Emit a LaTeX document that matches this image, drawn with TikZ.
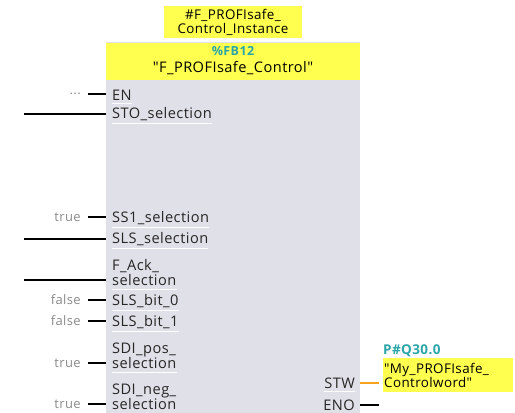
\documentclass[tikz,border=0pt]{standalone}
\usepackage{fontspec}
\setmainfont{Open Sans}[LetterSpace=3, Ligatures=TeXOff]
\definecolor{fbyellow}{HTML}{FFFF4F}
\definecolor{fbgrey}{HTML}{E0E0E8}
\definecolor{fbteal}{HTML}{2AA6A8}
\definecolor{valgrey}{HTML}{8A8A8A}
\definecolor{wireorange}{HTML}{F5A21E}
\tikzset{
  pinlabel/.style={anchor=west, inner xsep=0pt, inner ysep=3pt, font=\fontsize{14.6}{15}\selectfont, text=black!85, align=left},
  outlabel/.style={pinlabel, anchor=east},
  sepline/.style={white!96!fbgrey, line width=1pt},
  wire/.style={black, line width=2pt},
  owire/.style={wireorange, line width=2pt},
  value/.style={anchor=east, inner sep=0pt, font=\fontsize{13}{14}\selectfont, text=valgrey},
  yellowbox/.style={fill=fbyellow, inner sep=0pt, align=center, font=\fontsize{13.4}{14}\selectfont}
}
\begin{document}
\begin{tikzpicture}[x=1pt,y=-1pt]
\useasboundingbox (0,0) rectangle (515,413);

% function block body and header
\node[fill=fbgrey, minimum width=254pt, minimum height=372pt, anchor=north west, inner sep=0pt] (blk) at (106,42) {};
\node[fill=fbyellow, minimum width=254pt, minimum height=37pt, anchor=north west, inner sep=0pt] (hdr) at (106,43) {};
\node[text=fbteal, font=\bfseries\fontsize{12.5}{14}\selectfont] (fbnum) at (233,51) {\%FB12};
\node[font=\fontsize{14.6}{15}\selectfont] (fbname) at (233,68) {"F\_PROFIsafe\_Control"};

% instance data block
\node[yellowbox, minimum width=138pt, minimum height=32pt] (inst) at (233,22) {\#F\_PROFIsafe\_\\Control\_Instance};

% input pins
\node[pinlabel] (en) at (112,95) {EN};
\node[pinlabel] (sto) at (112,114) {STO\_selection};
\node[pinlabel] (ss1) at (112,218) {SS1\_selection};
\node[pinlabel] (sls) at (112,239) {SLS\_selection};
\node[pinlabel] (fack) at (112,273) {F\_Ack\_\\selection};
\node[pinlabel] (bit0) at (112,301) {SLS\_bit\_0};
\node[pinlabel] (bit1) at (112,322) {SLS\_bit\_1};
\node[pinlabel] (sdip) at (112,356) {SDI\_pos\_\\selection};
\node[pinlabel] (sdin) at (112,397) {SDI\_neg\_\\selection};

\foreach \p in {en,sto,ss1,sls,fack,bit0,bit1,sdip,sdin}
  \draw[sepline] (\p.south west) -- (\p.south east);

% wire ends on the input side
\coordinate (en-w) at (88,94);
\coordinate (sto-w) at (24,114);
\coordinate (ss1-w) at (88,217);
\coordinate (sls-w) at (24,239);
\coordinate (fack-w) at (24,280);
\coordinate (bit0-w) at (88,300);
\coordinate (bit1-w) at (88,321);
\coordinate (sdip-w) at (88,363);
\coordinate (sdin-w) at (88,404);

\foreach \p in {en,sto,ss1,sls,fack,bit0,bit1,sdip,sdin}
  \draw[wire] (\p-w) -- (\p-w -| blk.west);

% parameter values
\node[value] (v-en) at (81,94) {...};
\node[value] (v-ss1) at (81,217) {true};
\node[value] (v-bit0) at (81,300) {false};
\node[value] (v-bit1) at (81,321) {false};
\node[value] (v-sdip) at (81,363) {true};
\node[value] (v-sdin) at (81,404) {true};

% output pins
\node[outlabel] (stw) at (355,383) {STW};
\node[outlabel] (eno) at (355,405) {ENO};
\draw[sepline] (stw.south west) -- (stw.south east);
\coordinate (stw-e) at (379,383);
\coordinate (eno-e) at (379,405);
\draw[owire] (stw-e -| blk.east) -- (stw-e);
\draw[wire] (eno-e -| blk.east) -- (eno-e);

% output operand
\node[text=fbteal, font=\bfseries\fontsize{13.5}{14}\selectfont, anchor=west, inner sep=0pt] (qaddr) at (383,351) {P\#Q30.0};
\node[fill=fbyellow, anchor=north west, minimum height=34pt, text width=128pt, inner xsep=1pt, inner ysep=0pt, align=left, font=\fontsize{13.4}{13}\selectfont] (ctrlw) at (383,358) {"My\_PROFIsafe\_\\Controlword"};
\end{tikzpicture}
\end{document}
